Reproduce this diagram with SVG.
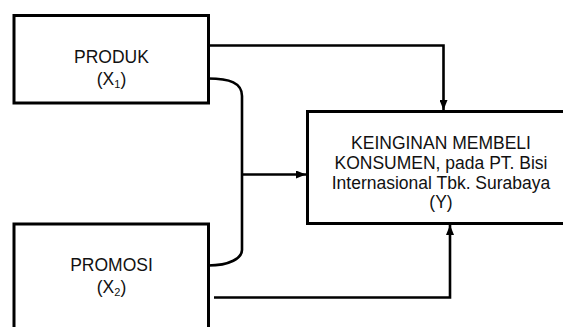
<svg xmlns="http://www.w3.org/2000/svg" width="563" height="327" viewBox="0 0 563 327">
<style>
.box{fill:#fff;stroke:#000;stroke-width:3}
.ln{fill:none;stroke:#000;stroke-width:2.6}
.t{font-family:"Liberation Sans",Arial,sans-serif;font-size:17.5px;fill:#111;text-anchor:middle}
</style>
<defs>
<marker id="ah" viewBox="0 0 10 8" refX="10" refY="4" markerWidth="10" markerHeight="8" markerUnits="userSpaceOnUse" orient="auto">
<path d="M0,0 L10,4 L0,8 Z" fill="#000"/>
</marker>
</defs>
<rect width="563" height="327" fill="#fff"/>
<g id="connectors">
<path class="ln" d="M208,45.5 H443.5 V110" marker-end="url(#ah)"/>
<path class="ln" d="M208,78.5 C230,78.5 242,83 242,96 V250 C242,258 230,265.5 208,265.5"/>
<path class="ln" d="M242,174.5 H306" marker-end="url(#ah)"/>
<path class="ln" d="M214,297.5 H450 V225" marker-end="url(#ah)"/>
</g>
<g id="produk">
<rect class="box" x="14" y="15.5" width="194.5" height="87.5"/>
<text class="t" x="111.5" y="63">PRODUK</text>
<text class="t" x="111.5" y="85">(X<tspan font-size="11" dy="3">1</tspan><tspan dy="-3">)</tspan></text>
</g>
<g id="promosi">
<rect class="box" x="14" y="224" width="194.5" height="120"/>
<text class="t" x="111.5" y="271">PROMOSI</text>
<text class="t" x="111.5" y="293">(X<tspan font-size="11" dy="3">2</tspan><tspan dy="-3">)</tspan></text>
</g>
<g id="keinginan">
<rect class="box" x="307.5" y="111.5" width="270" height="112"/>
<text class="t" x="441" y="149">KEINGINAN MEMBELI</text>
<text class="t" x="441" y="168.5">KONSUMEN, pada PT. Bisi</text>
<text class="t" x="441" y="188.5">Internasional Tbk. Surabaya</text>
<text class="t" x="441" y="208">(Y)</text>
</g>
</svg>
